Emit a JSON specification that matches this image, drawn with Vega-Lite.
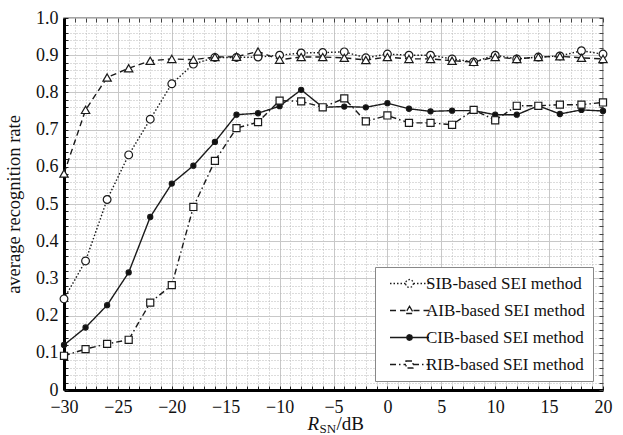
{
  "$schema": "https://vega.github.io/schema/vega-lite/v6.json",
  "width": 539,
  "height": 372,
  "autosize": "none",
  "padding": {"left": 64, "top": 18, "right": 20, "bottom": 45},
  "background": "white",
  "config": {
    "font": "Liberation Serif",
    "view": {"stroke": "#888", "strokeWidth": 1.5},
    "axis": {"labelColor": "#111", "titleColor": "#111", "titleFontWeight": "normal", "labelFont": "Liberation Serif", "titleFont": "Liberation Serif", "labelFlush": false}
  },
  "data": {
    "values": [
      {"snr": -30, "SIB": 0.245, "AIB": 0.582, "CIB": 0.121, "RIB": 0.092},
      {"snr": -28, "SIB": 0.347, "AIB": 0.753, "CIB": 0.168, "RIB": 0.110},
      {"snr": -26, "SIB": 0.512, "AIB": 0.840, "CIB": 0.228, "RIB": 0.124},
      {"snr": -24, "SIB": 0.632, "AIB": 0.865, "CIB": 0.316, "RIB": 0.135},
      {"snr": -22, "SIB": 0.728, "AIB": 0.885, "CIB": 0.465, "RIB": 0.235},
      {"snr": -20, "SIB": 0.823, "AIB": 0.890, "CIB": 0.555, "RIB": 0.282},
      {"snr": -18, "SIB": 0.876, "AIB": 0.888, "CIB": 0.603, "RIB": 0.492},
      {"snr": -16, "SIB": 0.894, "AIB": 0.895, "CIB": 0.667, "RIB": 0.616},
      {"snr": -14, "SIB": 0.894, "AIB": 0.896, "CIB": 0.740, "RIB": 0.704},
      {"snr": -12, "SIB": 0.895, "AIB": 0.910, "CIB": 0.744, "RIB": 0.720},
      {"snr": -10, "SIB": 0.900, "AIB": 0.888, "CIB": 0.763, "RIB": 0.778},
      {"snr": -8, "SIB": 0.906, "AIB": 0.895, "CIB": 0.807, "RIB": 0.776},
      {"snr": -6, "SIB": 0.907, "AIB": 0.895, "CIB": 0.760, "RIB": 0.760},
      {"snr": -4, "SIB": 0.909, "AIB": 0.893, "CIB": 0.762, "RIB": 0.784},
      {"snr": -2, "SIB": 0.893, "AIB": 0.887, "CIB": 0.760, "RIB": 0.722},
      {"snr": 0, "SIB": 0.903, "AIB": 0.895, "CIB": 0.771, "RIB": 0.738},
      {"snr": 2, "SIB": 0.900, "AIB": 0.890, "CIB": 0.756, "RIB": 0.718},
      {"snr": 4, "SIB": 0.900, "AIB": 0.890, "CIB": 0.749, "RIB": 0.718},
      {"snr": 6, "SIB": 0.890, "AIB": 0.885, "CIB": 0.751, "RIB": 0.713},
      {"snr": 8, "SIB": 0.882, "AIB": 0.882, "CIB": 0.751, "RIB": 0.753},
      {"snr": 10, "SIB": 0.900, "AIB": 0.895, "CIB": 0.740, "RIB": 0.725},
      {"snr": 12, "SIB": 0.890, "AIB": 0.890, "CIB": 0.740, "RIB": 0.764},
      {"snr": 14, "SIB": 0.895, "AIB": 0.895, "CIB": 0.764, "RIB": 0.764},
      {"snr": 16, "SIB": 0.898, "AIB": 0.897, "CIB": 0.742, "RIB": 0.767},
      {"snr": 18, "SIB": 0.912, "AIB": 0.893, "CIB": 0.753, "RIB": 0.767},
      {"snr": 20, "SIB": 0.903, "AIB": 0.890, "CIB": 0.750, "RIB": 0.773}
    ]
  },
  "resolve": {"axis": {"x": "independent", "y": "independent"}},
  "layer": [
    {
      "transform": [{"fold": ["SIB", "AIB", "CIB", "RIB"], "as": ["series", "rate"]}],
      "mark": {"type": "line", "color": "#1a1a1a", "strokeWidth": 1.4},
      "encoding": {
        "x": {
          "field": "snr", "type": "quantitative",
          "scale": {"domain": [-30, 20], "nice": false, "zero": false},
          "axis": {
            "orient": "bottom",
            "values": [-30,-29,-28,-27,-26,-25,-24,-23,-22,-21,-20,-19,-18,-17,-16,-15,-14,-13,-12,-11,-10,-9,-8,-7,-6,-5,-4,-3,-2,-1,0,1,2,3,4,5,6,7,8,9,10,11,12,13,14,15,16,17,18,19,20],
            "grid": true, "gridDash": [1, 2], "gridColor": "#b8b8b8", "gridWidth": 1,
            "labels": false, "ticks": true, "tickSize": -4, "tickColor": "#222", "domain": false,
            "title": "R", "titleFontStyle": "italic", "titleFontSize": 19,
            "titleAlign": "left", "titleAnchor": null, "titleX": 243, "titleY": 39, "titleBaseline": "alphabetic"
          }
        },
        "y": {
          "field": "rate", "type": "quantitative",
          "scale": {"domain": [0, 1], "nice": false, "zero": false},
          "axis": {
            "orient": "left",
            "values": [0,0.02,0.04,0.06,0.08,0.1,0.12,0.14,0.16,0.18,0.2,0.22,0.24,0.26,0.28,0.3,0.32,0.34,0.36,0.38,0.4,0.42,0.44,0.46,0.48,0.5,0.52,0.54,0.56,0.58,0.6,0.62,0.64,0.66,0.68,0.7,0.72,0.74,0.76,0.78,0.8,0.82,0.84,0.86,0.88,0.9,0.92,0.94,0.96,0.98,1],
            "grid": true, "gridDash": [1, 2], "gridColor": "#b8b8b8", "gridWidth": 1,
            "labels": false, "ticks": true, "tickSize": -4, "tickColor": "#222", "domain": false, "title": null
          }
        },
        "detail": {"field": "series", "type": "nominal"},
        "strokeDash": {
          "condition": [
            {"test": "datum.series === 'SIB'", "value": [1.5, 2]},
            {"test": "datum.series === 'AIB'", "value": [6, 4]},
            {"test": "datum.series === 'RIB'", "value": [6, 3, 1.5, 3]}
          ],
          "value": [1, 0]
        }
      }
    },
    {
      "transform": [{"fold": ["SIB", "AIB", "CIB", "RIB"], "as": ["method", "rate"]}],
      "mark": {"type": "point", "filled": true, "stroke": "#1a1a1a", "strokeWidth": 1.2, "opacity": 1},
      "encoding": {
        "x": {
          "field": "snr", "type": "quantitative",
          "scale": {"domain": [-30, 20], "nice": false, "zero": false},
          "axis": {
            "orient": "bottom", "values": [-30, -25, -20, -15, -10, -5, 0, 5, 10, 15, 20],
            "grid": true, "gridColor": "#c8c8c8", "gridWidth": 1,
            "labels": true, "labelFontSize": 18, "labelPadding": 8, "ticks": false,
            "domain": true, "domainColor": "#000", "domainWidth": 3,
            "title": "/dB", "titleFontSize": 19,
            "titleAlign": "left", "titleAnchor": null, "titleX": 272, "titleY": 39, "titleBaseline": "alphabetic"
          }
        },
        "y": {
          "field": "rate", "type": "quantitative",
          "scale": {"domain": [0, 1], "nice": false, "zero": false},
          "axis": {
            "orient": "left", "values": [0, 0.1, 0.2, 0.3, 0.4, 0.5, 0.6, 0.7, 0.8, 0.9, 1],
            "grid": true, "gridColor": "#c8c8c8", "gridWidth": 1,
            "labels": true, "labelFontSize": 18, "labelPadding": 6, "ticks": false,
            "labelExpr": "datum.value === 0 ? '0' : format(datum.value, '.1f')",
            "domain": true, "domainColor": "#000", "domainWidth": 3,
            "title": "average recognition rate", "titleFontSize": 18.5, "titlePadding": 12
          }
        },
        "shape": {"condition": [{"test": "datum.method === 'AIB'", "value": "triangle-up"}, {"test": "datum.method === 'RIB'", "value": "square"}], "value": "circle"},
        "fill": {"condition": {"test": "datum.method === 'CIB'", "value": "#111"}, "value": "white"},
        "size": {"condition": [{"test": "datum.method === 'CIB'", "value": 26}, {"test": "datum.method === 'AIB'", "value": 70}, {"test": "datum.method === 'RIB'", "value": 50}], "value": 60}
      }
    },
    {
      "transform": [{"fold": ["SIB", "AIB", "CIB", "RIB"], "as": ["k", "rate"]}],
      "mark": {"type": "point", "opacity": 0},
      "encoding": {
        "x": {
          "field": "snr", "type": "quantitative",
          "scale": {"domain": [-30, 20], "nice": false, "zero": false},
          "axis": {
            "orient": "top",
            "values": [-30,-29,-28,-27,-26,-25,-24,-23,-22,-21,-20,-19,-18,-17,-16,-15,-14,-13,-12,-11,-10,-9,-8,-7,-6,-5,-4,-3,-2,-1,0,1,2,3,4,5,6,7,8,9,10,11,12,13,14,15,16,17,18,19,20],
            "grid": false, "labels": false, "ticks": true, "tickSize": -4, "tickColor": "#444", "domain": false, "title": null
          }
        },
        "y": {
          "field": "rate", "type": "quantitative",
          "scale": {"domain": [0, 1], "nice": false, "zero": false},
          "axis": {
            "orient": "right",
            "values": [0,0.02,0.04,0.06,0.08,0.1,0.12,0.14,0.16,0.18,0.2,0.22,0.24,0.26,0.28,0.3,0.32,0.34,0.36,0.38,0.4,0.42,0.44,0.46,0.48,0.5,0.52,0.54,0.56,0.58,0.6,0.62,0.64,0.66,0.68,0.7,0.72,0.74,0.76,0.78,0.8,0.82,0.84,0.86,0.88,0.9,0.92,0.94,0.96,0.98,1],
            "grid": false, "labels": false, "ticks": true, "tickSize": -4, "tickColor": "#444", "domain": false, "title": null
          }
        }
      }
    },
    {
      "transform": [{"fold": ["SIB", "AIB", "CIB", "RIB"], "as": ["k", "rate"]}],
      "mark": {"type": "point", "opacity": 0, "color": "#1a1a1a", "strokeWidth": 1.3},
      "encoding": {
        "x": {
          "field": "snr", "type": "quantitative",
          "scale": {"domain": [-30, 20], "nice": false, "zero": false},
          "axis": {
            "orient": "bottom", "grid": false, "labels": false, "ticks": false, "domain": false,
            "title": "SN", "titleFontSize": 13,
            "titleAlign": "left", "titleAnchor": null, "titleX": 255, "titleY": 42, "titleBaseline": "alphabetic"
          }
        },
        "y": {"field": "rate", "type": "quantitative", "scale": {"domain": [0, 1], "nice": false, "zero": false}, "axis": null},
        "shape": {
          "field": "k", "type": "nominal",
          "scale": {
            "domain": ["SIB", "AIB", "CIB", "RIB"],
            "range": [
              "M-3.9,0H-0.8M0.8,0H3.9M0.8,0L0.69,0.4L0.4,0.69L0,0.8L-0.4,0.69L-0.69,0.4L-0.8,0L-0.69,-0.4L-0.4,-0.69L0,-0.8L0.4,-0.69L0.69,-0.4Z",
              "M-3.9,0H-0.8M0.8,0H3.9M0,-0.85L0.85,0.6L-0.85,0.6Z",
              "M-3.9,0H3.9M0.55,0L0.48,0.28L0.28,0.48L0,0.55L-0.28,0.48L-0.48,0.28L-0.55,0L-0.48,-0.28L-0.28,-0.48L0,-0.55L0.28,-0.48L0.48,-0.28Z",
              "M-3.9,0H-0.7M0.7,0H3.9M-0.7,-0.7H0.7V0.7H-0.7Z"
            ]
          },
          "legend": {
            "orient": "none", "legendX": 311, "legendY": 249,
            "title": null, "padding": 8, "strokeColor": "#888", "fillColor": "white",
            "labelFont": "Liberation Serif", "labelFontSize": 17, "labelColor": "#111",
            "labelExpr": "datum.label + '-based SEI method'",
            "symbolSize": 100, "symbolOffset": 18, "labelOffset": 8, "rowPadding": 9,
            "symbolStrokeWidth": 1.3, "symbolOpacity": 1, "symbolStrokeColor": "#1a1a1a"
          }
        },
        "strokeDash": {
          "field": "k", "type": "nominal",
          "scale": {"domain": ["SIB", "AIB", "CIB", "RIB"], "range": [[1.5, 2], [6, 4], [1, 0], [6, 3, 1.5, 3]]}
        },
        "fill": {
          "field": "k", "type": "nominal",
          "scale": {"domain": ["SIB", "AIB", "CIB", "RIB"], "range": ["white", "white", "#111", "white"]}
        },
        "stroke": {
          "field": "k", "type": "nominal",
          "scale": {"domain": ["SIB", "AIB", "CIB", "RIB"], "range": ["#1a1a1a", "#1a1a1a", "#1a1a1a", "#1a1a1a"]}
        }
      }
    }
  ]
}
